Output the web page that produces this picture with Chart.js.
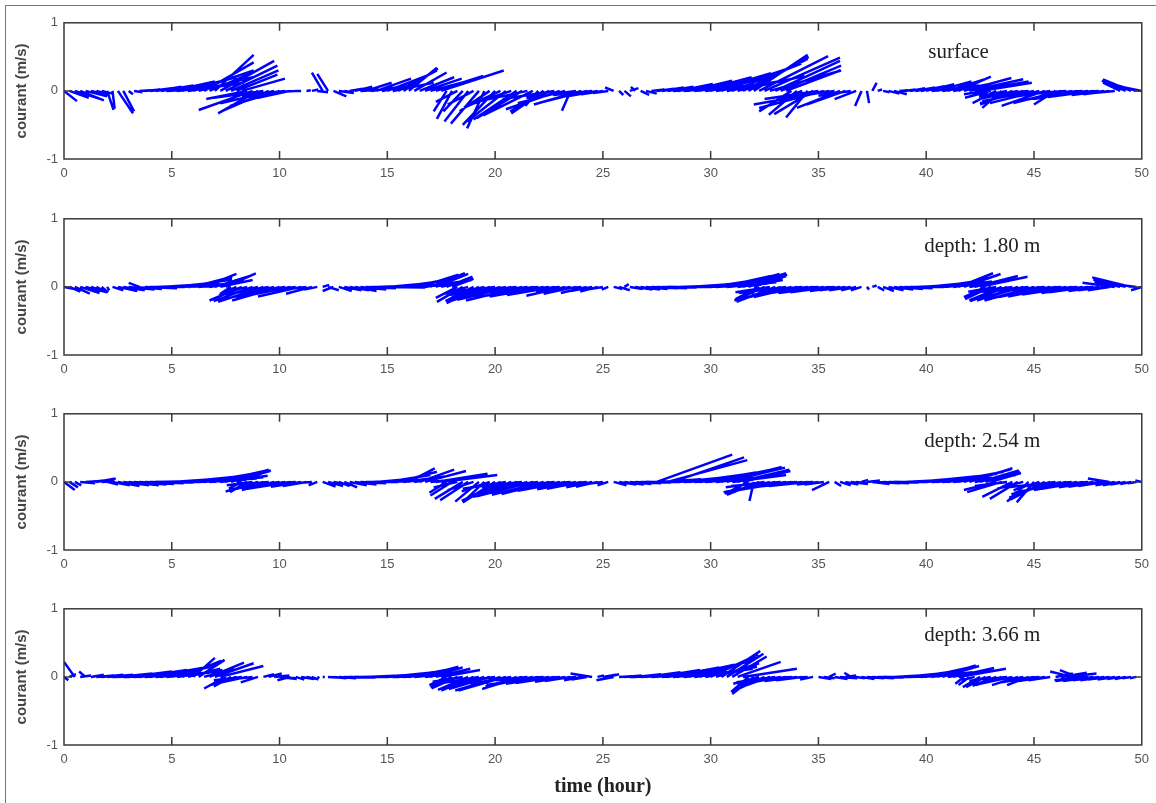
<!DOCTYPE html>
<html>
<head>
<meta charset="utf-8">
<script src="https://cdn.jsdelivr.net/npm/chart.js@4.4.1/dist/chart.umd.min.js"></script>
<style>
    body { margin: 0; background: #fff; width: 1156px; height: 803px; overflow: hidden; position: relative; }
    .frame { position: absolute; left: 5px; top: 5px; width: 1151px; height: 798px; border-left: 1px solid #777; border-top: 1px solid #777; }
    .panel { position: absolute; left: 0; width: 1156px; }
</style>
</head>
<body>
<div class="frame"></div>
<div class="panel" style="top:9px;height:180px"><canvas id="panel0"></canvas></div>
<div class="panel" style="top:205px;height:180px"><canvas id="panel1"></canvas></div>
<div class="panel" style="top:400px;height:180px"><canvas id="panel2"></canvas></div>
<div class="panel" style="top:595px;height:208px"><canvas id="panel3"></canvas></div>
<script>
// Temps des mesures (heures), pas de 15 min
const hours = [
    0, 0.25, 0.5, 0.75, 1, 1.25, 1.5, 1.75, 2, 2.25, 2.5, 2.75, 3, 3.25, 3.5, 3.75,
    4, 4.25, 4.5, 4.75, 5, 5.25, 5.5, 5.75, 6, 6.25, 6.5, 6.75, 7, 7.25, 7.5, 7.75,
    8, 8.25, 8.5, 8.75, 9, 9.25, 9.5, 9.75, 10, 10.25, 10.5, 10.75, 11, 11.25, 11.5, 11.75,
    12, 12.25, 12.5, 12.75, 13, 13.25, 13.5, 13.75, 14, 14.25, 14.5, 14.75, 15, 15.25, 15.5, 15.75,
    16, 16.25, 16.5, 16.75, 17, 17.25, 17.5, 17.75, 18, 18.25, 18.5, 18.75, 19, 19.25, 19.5, 19.75,
    20, 20.25, 20.5, 20.75, 21, 21.25, 21.5, 21.75, 22, 22.25, 22.5, 22.75, 23, 23.25, 23.5, 23.75,
    24, 24.25, 24.5, 24.75, 25, 25.25, 25.5, 25.75, 26, 26.25, 26.5, 26.75, 27, 27.25, 27.5, 27.75,
    28, 28.25, 28.5, 28.75, 29, 29.25, 29.5, 29.75, 30, 30.25, 30.5, 30.75, 31, 31.25, 31.5, 31.75,
    32, 32.25, 32.5, 32.75, 33, 33.25, 33.5, 33.75, 34, 34.25, 34.5, 34.75, 35, 35.25, 35.5, 35.75,
    36, 36.25, 36.5, 36.75, 37, 37.25, 37.5, 37.75, 38, 38.25, 38.5, 38.75, 39, 39.25, 39.5, 39.75,
    40, 40.25, 40.5, 40.75, 41, 41.25, 41.5, 41.75, 42, 42.25, 42.5, 42.75, 43, 43.25, 43.5, 43.75,
    44, 44.25, 44.5, 44.75, 45, 45.25, 45.5, 45.75, 46, 46.25, 46.5, 46.75, 47, 47.25, 47.5, 47.75,
    48, 48.25, 48.5, 48.75, 49, 49.25, 49.5, 49.75, 50
];

// Surface : composantes u (est) et v (nord), m/s
const surfaceU = [
    0.12, 0.18, 0.24, 0.22, 0.2, 0.16, 0.12, 0.1, 0.06, 0.02, 0.14, 0.1, 0.04, 0.08, 0.1, 0.14,
    0.2, 0.24, 0.3, 0.36, 0.4, 0.44, 0.5, 0.52, 0.56, 0.5, 0.46, 0.42, 0.36, 0.5, 0.48, 0.44,
    0.38, 0.4, -0.38, -0.5, -0.37, -0.46, -0.44, -0.5, -0.46, -0.4, -0.3, -0.1, -0.06, 0.04, 0.06, 0.1,
    -0.1, -0.1, 0.12, 0.14, 0.08, 0.12, 0.16, 0.2, 0.24, 0.28, 0.32, 0.34, 0.36, 0.38, 0.36, 0.32,
    0.26, 0.3, 0.32, 0.34, 0.36, 0.44, 0.58, -0.12, -0.14, -0.2, -0.18, -0.22, -0.24, -0.26, -0.16, -0.28,
    -0.3, -0.34, -0.36, -0.38, -0.4, -0.42, -0.44, -0.46, -0.12, -0.3, -0.36, -0.48, -0.5, -0.44, -0.08, -0.46,
    -0.44, -0.4, -0.36, -0.28, -0.2, -0.14, -0.08, 0.04, 0.06, 0.08, -0.04, 0.08, 0.1, 0.12, 0.16, 0.2,
    0.24, 0.28, 0.32, 0.36, 0.4, 0.44, 0.48, 0.52, 0.56, 0.58, 0.6, 0.62, 0.64, 0.62, 0.6, 0.56,
    0.5, 0.64, 0.7, 0.66, 0.6, 0.56, 0.5, -0.3, -0.26, -0.24, -0.2, -0.36, -0.5, -0.6, -0.7, -0.5,
    -0.4, -0.36, -0.3, -0.2, -0.06, 0.02, 0.04, 0.04, 0.06, 0.1, 0.12, 0.08, 0.1, 0.14, 0.18, 0.22,
    0.26, 0.3, 0.32, 0.34, 0.36, 0.34, 0.3, 0.44, 0.5, 0.5, 0.48, -0.2, -0.24, -0.22, -0.18, -0.26,
    -0.3, -0.36, -0.4, -0.44, -0.48, -0.46, -0.4, -0.3, -0.2, -0.44, -0.5, -0.46, -0.4, -0.44, -0.5, -0.42,
    -0.36, -0.3, -0.24, -0.2, -0.16, -0.22, -0.26, -0.3, -0.32
];
const surfaceV = [
    -0.15, -0.1, -0.12, -0.14, -0.08, -0.06, -0.05, -0.04, -0.28, -0.26, -0.33, -0.3, -0.05, -0.02, 0.01, 0.02,
    0.04, 0.06, 0.08, 0.03, 0.14, 0.08, 0.2, 0.12, 0.3, 0.2, 0.42, 0.28, 0.53, 0.44, 0.37, 0.3,
    0.24, 0.18, -0.12, -0.28, -0.33, -0.1, -0.3, -0.18, -0.22, -0.07, -0.1, -0.01, 0, 0.01, 0.02, -0.02,
    0.27, 0.25, -0.08, -0.03, -0.02, 0.03, 0.06, 0.02, 0.12, 0.06, 0.18, 0.1, 0.22, 0.12, 0.3, 0.33,
    0.34, 0.27, 0.2, 0.18, 0.15, 0.22, 0.3, -0.3, -0.41, -0.16, -0.3, -0.45, -0.2, -0.48, -0.55, -0.3,
    -0.5, -0.25, -0.45, -0.2, -0.42, -0.4, -0.15, -0.36, -0.22, -0.33, -0.3, -0.12, -0.27, -0.18, -0.29, -0.1,
    -0.2, -0.16, -0.06, -0.08, -0.05, -0.03, 0.05, -0.06, -0.08, 0.04, 0.06, -0.06, -0.04, 0.02, 0.03, 0.05,
    0.06, 0.03, 0.1, 0.05, 0.15, 0.08, 0.2, 0.1, 0.26, 0.14, 0.32, 0.18, 0.4, 0.22, 0.47, 0.5,
    0.53, 0.51, 0.49, 0.3, 0.44, 0.37, 0.3, -0.3, -0.35, -0.14, -0.39, -0.34, -0.12, -0.25, -0.2, -0.1,
    -0.25, -0.2, -0.07, -0.12, -0.22, -0.18, 0.12, 0.02, -0.02, -0.04, -0.05, 0.01, 0.02, 0.04, 0.05, 0.07,
    0.1, 0.05, 0.14, 0.08, 0.18, 0.1, 0.21, 0.19, 0.17, 0.14, 0.12, -0.05, -0.1, -0.18, -0.25, -0.08,
    -0.2, -0.12, -0.18, -0.06, -0.15, -0.18, -0.22, -0.08, -0.2, -0.18, -0.05, -0.14, -0.12, -0.04, -0.1, -0.09,
    -0.03, -0.06, -0.05, -0.03, 0.12, 0.15, 0.17, 0.14, 0.1
];

// Profondeur 1.80 m
const depth180U = [
    0.16, 0.1, 0.14, 0.18, 0.2, 0.12, 0.08, 0.06, 0.02, 0.1, 0.18, 0.2, 0.24, 0.26, -0.1, 0.3,
    0.32, 0.36, 0.4, 0.42, 0.44, 0.46, 0.46, 0.42, 0.36, 0.34, 0.3, 0.32, 0.34, 0.3, 0.28, -0.1,
    -0.16, -0.3, -0.2, -0.36, -0.3, -0.42, -0.36, -0.46, -0.44, -0.4, -0.5, -0.36, -0.4, -0.28, -0.24, -0.12,
    0.06, 0.1, -0.1, 0.12, 0.16, 0.18, 0.2, 0.24, 0.28, 0.32, 0.36, 0.4, 0.44, 0.46, 0.48, 0.46,
    0.44, 0.4, 0.36, 0.34, 0.32, 0.3, 0.28, 0.24, 0.2, -0.2, -0.24, -0.22, -0.26, -0.3, -0.32, -0.38,
    -0.44, -0.46, -0.5, -0.5, -0.48, -0.52, -0.56, -0.54, -0.52, -0.5, -0.48, -0.44, -0.4, -0.36, -0.32, -0.3,
    -0.28, -0.24, -0.2, -0.16, -0.12, -0.06, 0.08, 0.1, 0.04, 0.12, 0.16, 0.18, 0.2, 0.24, 0.28, 0.32,
    0.36, 0.38, 0.4, 0.44, 0.48, 0.5, 0.52, 0.52, 0.5, 0.48, 0.46, 0.46, 0.44, 0.42, 0.4, 0.36,
    0.3, -0.22, -0.28, -0.32, -0.36, -0.4, -0.44, -0.42, -0.4, -0.48, -0.52, -0.5, -0.48, -0.42, -0.36, -0.32,
    -0.28, -0.24, -0.2, -0.14, -0.1, 0.02, 0.04, 0.06, 0.1, 0.14, 0.18, 0.22, 0.26, 0.3, 0.34, 0.38,
    0.4, 0.42, 0.44, 0.42, 0.4, 0.36, 0.32, 0.34, 0.36, 0.4, 0.44, -0.2, -0.24, -0.26, -0.3, -0.34,
    -0.36, -0.38, -0.4, -0.44, -0.46, -0.48, -0.5, -0.48, -0.44, -0.5, -0.52, -0.46, -0.4, -0.38, -0.36, -0.32,
    -0.28, -0.24, -0.2, -0.3, -0.24, -0.3, -0.36, -0.2, -0.1
];
const depth180V = [
    -0.05, -0.07, -0.1, -0.09, -0.08, -0.06, -0.07, -0.08, -0.05, -0.05, -0.06, -0.05, -0.04, -0.03, 0.06, -0.02,
    0, 0.02, 0.04, 0.01, 0.07, 0.03, 0.11, 0.05, 0.15, 0.06, 0.19, 0.08, 0.17, 0.1, 0.2, -0.1,
    -0.12, -0.2, -0.08, -0.21, -0.12, -0.22, -0.1, -0.18, -0.2, -0.09, -0.16, -0.06, -0.14, -0.05, -0.1, -0.04,
    0.03, -0.05, -0.06, -0.06, -0.05, -0.05, -0.06, -0.04, -0.02, 0, 0.02, -0.01, 0.06, 0.02, 0.1, 0.04,
    0.14, 0.06, 0.18, 0.08, 0.2, 0.19, 0.1, 0.15, 0.12, -0.16, -0.22, -0.1, -0.21, -0.24, -0.12, -0.22,
    -0.08, -0.2, -0.15, -0.19, -0.07, -0.2, -0.12, -0.16, -0.06, -0.14, -0.1, -0.12, -0.05, -0.13, -0.08, -0.1,
    -0.04, -0.09, -0.06, -0.07, -0.03, -0.04, -0.03, -0.05, 0.04, -0.03, -0.04, -0.04, -0.03, -0.02, -0.02, -0.01,
    0, 0.01, 0.02, 0.01, 0.05, 0.02, 0.08, 0.03, 0.12, 0.05, 0.16, 0.07, 0.19, 0.1, 0.2, 0.18,
    0.16, -0.18, -0.2, -0.08, -0.22, -0.2, -0.09, -0.16, -0.15, -0.06, -0.12, -0.11, -0.04, -0.09, -0.08, -0.03,
    -0.06, -0.05, -0.05, -0.05, -0.05, -0.04, 0.02, -0.05, -0.06, -0.05, -0.04, -0.03, -0.02, 0, 0.02, 0.04,
    0.06, 0.03, 0.1, 0.05, 0.14, 0.08, 0.2, 0.19, 0.1, 0.16, 0.15, -0.15, -0.18, -0.07, -0.2, -0.21,
    -0.08, -0.2, -0.18, -0.07, -0.2, -0.18, -0.06, -0.15, -0.14, -0.05, -0.12, -0.11, -0.04, -0.09, -0.08, -0.03,
    -0.06, -0.05, -0.05, 0.06, 0.08, 0.11, 0.14, 0.04, -0.05
];

// Profondeur 2.54 m
const depth254U = [
    0.1, 0.08, 0.06, 0.14, 0.2, 0.22, 0.18, 0.12, 0.1, 0.16, 0.2, 0.24, 0.28, 0.3, 0.32, 0.36,
    0.4, 0.42, 0.44, 0.46, 0.48, 0.5, 0.52, 0.54, 0.56, 0.54, 0.52, 0.5, 0.46, 0.44, 0.4, 0.36,
    0.32, -0.12, -0.16, -0.24, -0.3, -0.32, -0.36, -0.3, -0.24, -0.36, -0.4, -0.34, -0.28, -0.22, -0.16, -0.08,
    0.12, 0.14, 0.18, 0.1, 0.12, 0.16, 0.2, 0.24, 0.3, 0.34, 0.36, 0.38, 0.4, 0.38, 0.36, 0.3,
    0.24, 0.28, 0.32, 0.38, 0.44, 0.48, 0.52, -0.16, -0.2, -0.22, -0.26, -0.26, -0.24, -0.22, -0.2, -0.26,
    -0.3, -0.36, -0.4, -0.42, -0.46, -0.48, -0.5, -0.52, -0.52, -0.48, -0.44, -0.46, -0.48, -0.44, -0.4, -0.36,
    -0.32, -0.28, -0.24, -0.2, -0.16, -0.1, 0.12, 0.16, 0.18, 0.2, 0.24, 0.28, 0.32, 0.36, 0.7, 0.36,
    0.74, 0.66, 0.4, 0.44, 0.48, 0.5, 0.52, 0.54, 0.56, 0.56, 0.56, 0.54, 0.5, 0.48, 0.44, -0.2,
    -0.04, -0.3, -0.36, -0.42, -0.48, -0.46, -0.44, -0.48, -0.5, -0.42, -0.36, -0.28, -0.2, -0.18, -0.16, 0.06,
    0.1, 0.12, 0.16, 0.1, 0.06, 0.12, 0.16, 0.2, 0.24, 0.28, 0.32, 0.36, 0.4, 0.44, 0.46, 0.5,
    0.52, 0.54, 0.56, 0.54, 0.52, 0.5, 0.48, 0.44, 0.4, 0.38, 0.36, 0.32, 0.28, -0.3, -0.32, -0.3,
    -0.28, -0.26, -0.24, -0.2, -0.16, -0.24, -0.32, -0.38, -0.44, -0.46, -0.48, -0.44, -0.4, -0.38, -0.36, -0.32,
    -0.28, -0.24, -0.2, -0.18, -0.16, -0.14, -0.1, -0.08, -0.06
];
const depth254V = [
    -0.12, -0.08, -0.05, -0.02, 0.02, 0.04, 0.05, 0.01, -0.04, -0.05, -0.06, -0.05, -0.05, -0.04, -0.03, -0.02,
    -0.01, 0, 0.02, 0.01, 0.05, 0.02, 0.08, 0.03, 0.11, 0.05, 0.14, 0.07, 0.16, 0.09, 0.18, 0.16,
    0.17, -0.1, -0.15, -0.05, -0.14, -0.13, -0.04, -0.12, -0.05, -0.09, -0.1, -0.03, -0.07, -0.06, -0.02, -0.05,
    -0.07, -0.06, -0.05, -0.06, -0.08, -0.05, -0.04, -0.02, 0, 0.02, 0.05, 0.02, 0.1, 0.04, 0.15, 0.06,
    0.2, 0.08, 0.18, 0.16, 0.07, 0.12, 0.1, -0.16, -0.2, -0.08, -0.25, -0.27, -0.12, -0.29, -0.3, -0.14,
    -0.3, -0.28, -0.1, -0.25, -0.24, -0.08, -0.22, -0.21, -0.09, -0.19, -0.18, -0.07, -0.15, -0.13, -0.05, -0.11,
    -0.1, -0.04, -0.08, -0.07, -0.03, -0.05, -0.05, -0.04, -0.04, -0.03, -0.02, -0.01, 0, 0.02, 0.4, 0.04,
    0.32, 0.36, 0.06, 0.03, 0.1, 0.05, 0.14, 0.07, 0.18, 0.09, 0.22, 0.21, 0.1, 0.18, 0.16, -0.16,
    -0.28, -0.19, -0.08, -0.17, -0.15, -0.06, -0.12, -0.1, -0.04, -0.07, -0.06, -0.02, -0.04, -0.04, -0.12, -0.06,
    -0.05, -0.04, -0.03, -0.02, 0.03, 0.02, -0.03, -0.02, -0.02, -0.01, 0, 0.01, 0.03, 0.04, 0.06, 0.08,
    0.09, 0.04, 0.12, 0.06, 0.15, 0.08, 0.18, 0.19, 0.2, 0.1, 0.17, 0.15, 0.13, -0.12, -0.15, -0.06,
    -0.22, -0.25, -0.1, -0.29, -0.3, -0.12, -0.26, -0.23, -0.08, -0.18, -0.16, -0.06, -0.12, -0.1, -0.04, -0.08,
    -0.07, -0.06, 0.05, -0.05, -0.05, -0.04, -0.03, -0.02, 0.02
];

// Profondeur 3.66 m
const depth366U = [
    0.04, 0.06, -0.1, 0.1, -0.06, 0.12, 0.16, 0.2, 0.24, 0.28, 0.32, 0.36, 0.4, 0.42, 0.44, 0.46,
    0.48, 0.5, 0.5, 0.48, 0.44, 0.42, 0.36, 0.3, 0.2, 0.24, 0.28, 0.32, 0.36, 0.4, -0.2, -0.16,
    -0.24, -0.26, -0.3, -0.22, -0.16, 0.1, 0.12, 0.14, 0.16, 0.1, -0.12, 0.08, 0.12, 0.1, 0.06, 0.02,
    0.02, 0.08, 0.12, 0.16, 0.2, 0.24, 0.26, 0.28, 0.32, 0.36, 0.4, 0.42, 0.44, 0.46, 0.48, 0.46,
    0.44, 0.4, 0.36, 0.34, 0.3, 0.32, 0.36, -0.16, -0.2, -0.24, -0.28, -0.28, -0.3, -0.34, -0.36, -0.38,
    -0.4, -0.42, -0.44, -0.38, -0.32, -0.36, -0.4, -0.44, -0.48, -0.44, -0.4, -0.36, -0.32, -0.28, -0.24, -0.2,
    -0.16, -0.14, -0.2, 0.06, 0.12, 0.1, -0.16, 0.12, 0.16, 0.2, 0.24, 0.28, 0.32, 0.36, 0.4, 0.44,
    0.48, 0.5, 0.52, 0.54, 0.56, 0.54, 0.52, 0.48, 0.44, 0.4, 0.36, 0.34, 0.32, 0.4, 0.5, -0.16,
    -0.2, -0.24, -0.28, -0.32, -0.36, -0.4, -0.44, -0.38, -0.3, -0.24, -0.2, -0.12, 0.12, 0.1, 0.06, 0.12,
    0.16, 0.1, -0.06, 0.08, 0.12, 0.16, 0.2, 0.24, 0.28, 0.32, 0.36, 0.38, 0.4, 0.42, 0.44, 0.42,
    0.4, 0.38, 0.36, 0.34, 0.32, 0.38, 0.44, -0.08, -0.1, -0.12, -0.16, -0.18, -0.2, -0.22, -0.24, -0.28,
    -0.3, -0.24, -0.16, -0.2, -0.3, -0.28, -0.24, -0.2, 0.16, 0.24, 0.28, -0.2, -0.16, -0.26, -0.3, -0.28,
    -0.24, -0.22, -0.2, -0.16, -0.12, -0.1, -0.08, -0.06, 0.04
];
const depth366V = [
    -0.05, 0.04, 0.22, 0.02, 0.08, 0.03, 0.02, 0.03, 0.03, 0.01, 0.05, 0.02, 0.08, 0.04, 0.1, 0.05,
    0.13, 0.06, 0.16, 0.08, 0.2, 0.1, 0.24, 0.12, 0.28, 0.25, 0.12, 0.21, 0.2, 0.16, -0.17, -0.14,
    -0.12, -0.05, -0.1, -0.04, -0.08, 0.04, 0.05, 0.02, -0.03, -0.02, -0.05, -0.04, -0.03, -0.03, -0.04, -0.02,
    0, -0.01, -0.02, -0.02, -0.01, -0.01, 0, 0.01, 0.02, 0.01, 0.04, 0.02, 0.07, 0.03, 0.1, 0.05,
    0.13, 0.06, 0.15, 0.07, 0.14, 0.12, 0.1, -0.12, -0.15, -0.17, -0.07, -0.19, -0.2, -0.09, -0.17, -0.18,
    -0.08, -0.2, -0.2, -0.1, -0.18, -0.17, -0.06, -0.14, -0.12, -0.05, -0.1, -0.09, -0.04, -0.07, -0.06, -0.03,
    -0.05, -0.04, 0.05, 0.02, 0.03, 0.04, -0.05, 0.01, 0.02, 0.01, 0.04, 0.02, 0.07, 0.03, 0.1, 0.05,
    0.14, 0.07, 0.18, 0.09, 0.23, 0.12, 0.28, 0.15, 0.33, 0.2, 0.38, 0.34, 0.3, 0.22, 0.12, -0.22,
    -0.25, -0.1, -0.2, -0.18, -0.08, -0.12, -0.1, -0.04, -0.06, -0.05, -0.02, -0.04, -0.03, -0.02, 0.05, -0.03,
    -0.02, 0.02, 0.06, -0.02, -0.03, -0.02, -0.02, -0.01, 0, 0.01, 0.03, 0.01, 0.06, 0.03, 0.1, 0.05,
    0.14, 0.07, 0.17, 0.16, 0.08, 0.13, 0.12, -0.1, -0.12, -0.05, -0.15, -0.15, -0.06, -0.13, -0.12, -0.04,
    -0.1, -0.12, -0.05, -0.12, -0.08, -0.03, -0.06, -0.05, 0.05, 0.06, 0.05, 0.08, 0.1, -0.05, -0.06, -0.06,
    -0.05, -0.05, -0.04, -0.04, -0.03, -0.03, -0.02, -0.02, 0.01
];

const panelLabels = ['surface', 'depth: 1.80 m', 'depth: 2.54 m', 'depth: 3.66 m'];
const panels = [
    { u: surfaceU, v: surfaceV },
    { u: depth180U, v: depth180V },
    { u: depth254U, v: depth254V },
    { u: depth366U, v: depth366V }
];
const yTicks = [-1, 0, 1];
const xTickStep = 5;

// heures de bâton par m/s de composante est
const stickScale = 5;
// position des étiquettes (heure, m/s)
const labelAt = [[41.5, 0.56], [42.6, 0.6], [42.6, 0.6], [42.6, 0.61]];

// Cadre MATLAB : boîte, graduations internes, étiquette du niveau
const axisBox = {
    id: 'axisBox',
    afterDraw(chart, args, opts) {
        const { ctx, chartArea: a, scales: { x, y } } = chart;
        const tick = 8;
        ctx.save();
        ctx.strokeStyle = '#3a3a3a';
        ctx.lineWidth = 1.5;
        ctx.strokeRect(a.left, a.top, a.right - a.left, a.bottom - a.top);
        ctx.beginPath();
        for (let h = x.min + xTickStep; h < x.max; h += xTickStep) {
            const px = x.getPixelForValue(h);
            ctx.moveTo(px, a.bottom); ctx.lineTo(px, a.bottom - tick);
            ctx.moveTo(px, a.top); ctx.lineTo(px, a.top + tick);
        }
        yTicks.slice(1, -1).forEach(val => {
            const py = y.getPixelForValue(val);
            ctx.moveTo(a.left, py); ctx.lineTo(a.left + tick, py);
            ctx.moveTo(a.right, py); ctx.lineTo(a.right - tick, py);
        });
        ctx.stroke();

        ctx.fillStyle = '#222';
        ctx.font = '21px "Liberation Serif", "Times New Roman", serif';
        ctx.textAlign = 'center';
        ctx.textBaseline = 'middle';
        ctx.fillText(opts.label, x.getPixelForValue(opts.at[0]), y.getPixelForValue(opts.at[1]));
        ctx.restore();
    }
};

// Bâtons : origine (t, 0) -> extrémité (t + u*échelle, v)
const buildSticks = (u, v) => {
    const pts = [];
    hours.forEach((t, i) => {
        pts.push({ x: t, y: 0 });
        pts.push({ x: t + u[i] * stickScale, y: v[i] });
        pts.push({ x: t, y: null });
    });
    return pts;
};

panels.forEach((p, k) => {
    const last = k === panels.length - 1;
    new Chart(document.getElementById('panel' + k), {
        type: 'scatter',
        data: {
            datasets: [{
                data: buildSticks(p.u, p.v),
                showLine: true,
                spanGaps: false,
                borderColor: '#0000ff',
                borderWidth: 2.5,
                pointRadius: 0,
                tension: 0
            }]
        },
        options: {
            responsive: true,
            maintainAspectRatio: false,
            animation: false,
            events: [],
            layout: { padding: { top: 10, right: 10, left: 0, bottom: 0 } },
            plugins: {
                legend: { display: false },
                tooltip: { enabled: false },
                axisBox: { label: panelLabels[k], at: labelAt[k] }
            },
            scales: {
                x: {
                    type: 'linear',
                    min: 0,
                    max: 50,
                    grid: { display: false, drawTicks: false },
                    border: { display: false },
                    ticks: {
                        stepSize: xTickStep,
                        padding: 7,
                        color: '#555',
                        font: { family: '"Liberation Sans", Arial, sans-serif', size: 13 }
                    },
                    title: {
                        display: last,
                        text: 'time (hour)',
                        color: '#222',
                        font: { family: '"Liberation Serif", "Times New Roman", serif', size: 20, weight: 'bold' },
                        padding: { top: 0, bottom: 4 }
                    },
                    afterFit: scale => { scale.height = last ? 58 : 30; }
                },
                y: {
                    min: -1,
                    max: 1,
                    grid: { display: false, drawTicks: false },
                    border: { display: false },
                    ticks: {
                        stepSize: 1,
                        padding: 6,
                        color: '#555',
                        font: { family: '"Liberation Sans", Arial, sans-serif', size: 13 }
                    },
                    title: {
                        display: true,
                        text: 'courant (m/s)',
                        color: '#444',
                        font: { family: '"Liberation Sans", Arial, sans-serif', size: 15, weight: 'bold' },
                        padding: { top: 13, bottom: 0 }
                    },
                    afterFit: scale => { scale.width = 64; }
                }
            }
        },
        plugins: [axisBox]
    });
});
</script>
</body>
</html>
